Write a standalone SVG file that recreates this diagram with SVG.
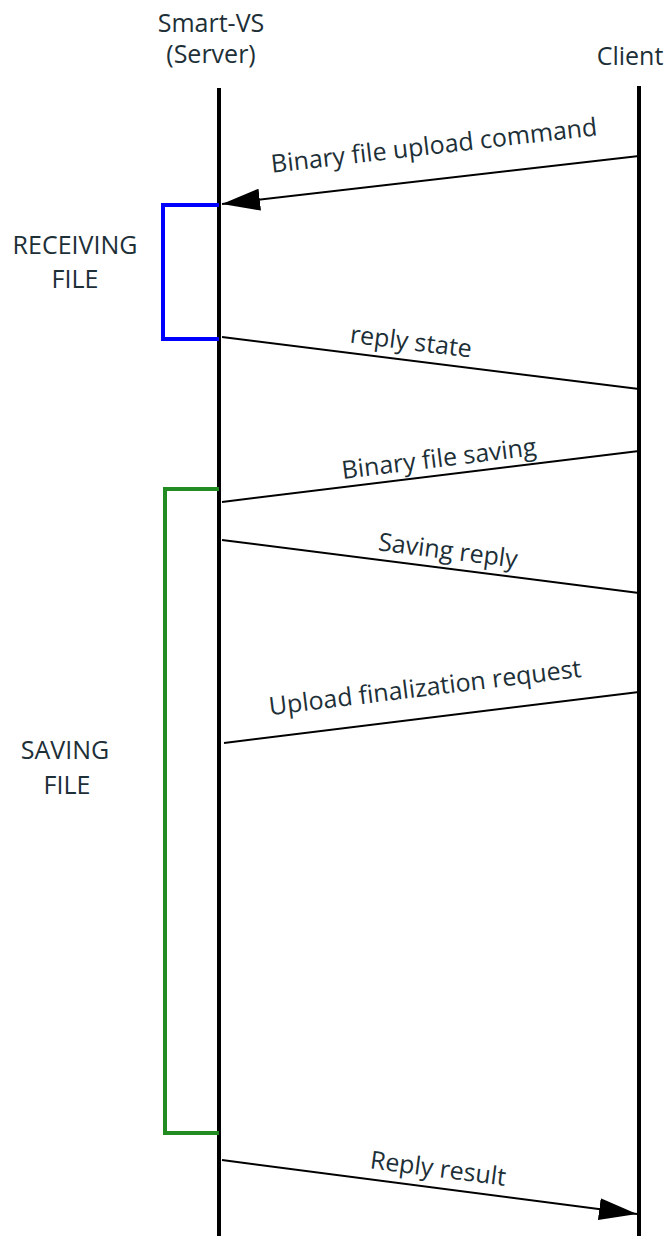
<svg xmlns="http://www.w3.org/2000/svg" width="670" height="1236" viewBox="0 0 670 1236">
<style>
  .lbl { font-family: "Open Sans", "Liberation Sans", sans-serif; font-size: 25px; fill: #1d2f37; text-anchor: middle; }
  .life { stroke: #000; stroke-width: 4; fill: none; }
  .msg { stroke: #000; stroke-width: 2; fill: none; }
</style>
<defs>
  <marker id="arr" markerUnits="userSpaceOnUse" markerWidth="40" markerHeight="22" viewBox="0 0 40 22" refX="38" refY="11" orient="auto">
    <path d="M0,0 L38,11 L0,22 Z" fill="#000"/>
  </marker>
</defs>
<g id="server">
  <text class="lbl" x="211" y="32">Smart-VS</text>
  <text class="lbl" x="211" y="63">(Server)</text>
  <line class="life" x1="219" y1="88" x2="219" y2="1236"/>
</g>
<g id="client">
  <text class="lbl" x="630" y="65">Client</text>
  <line class="life" x1="639" y1="86" x2="639" y2="1236"/>
</g>
<g id="receiving">
  <polyline points="219,205 163,205 163,339 219,339" fill="none" stroke="#0000ff" stroke-width="4"/>
  <text class="lbl" x="75" y="254">RECEIVING</text>
  <text class="lbl" x="75" y="288">FILE</text>
</g>
<g id="saving">
  <polyline points="219,489 165,489 165,1133 219,1133" fill="none" stroke="#228b22" stroke-width="4"/>
  <text class="lbl" x="65" y="759">SAVING</text>
  <text class="lbl" x="67" y="794">FILE</text>
</g>
<g id="connectors">
  <line class="msg" x1="639" y1="156" x2="222" y2="204" marker-end="url(#arr)"/>
  <text class="lbl" x="435" y="154" transform="rotate(-6.6 435 154)">Binary file upload command</text>
  <line class="msg" x1="222" y1="337" x2="639" y2="389"/>
  <text class="lbl" x="410" y="350" transform="rotate(7.1 410 350)">reply state</text>
  <line class="msg" x1="639" y1="451" x2="222" y2="502"/>
  <text class="lbl" x="440" y="467" transform="rotate(-7 440 467)">Binary file saving</text>
  <line class="msg" x1="222" y1="540" x2="639" y2="593"/>
  <text class="lbl" x="447" y="559" transform="rotate(7.2 447 559)">Saving reply</text>
  <line class="msg" x1="639" y1="692" x2="224" y2="743"/>
  <text class="lbl" x="426" y="696" transform="rotate(-7 426 696)">Upload finalization request</text>
  <line class="msg" x1="222" y1="1160" x2="637" y2="1214" marker-end="url(#arr)"/>
  <text class="lbl" x="437" y="1177" transform="rotate(7.4 437 1177)">Reply result</text>
</g>
</svg>
